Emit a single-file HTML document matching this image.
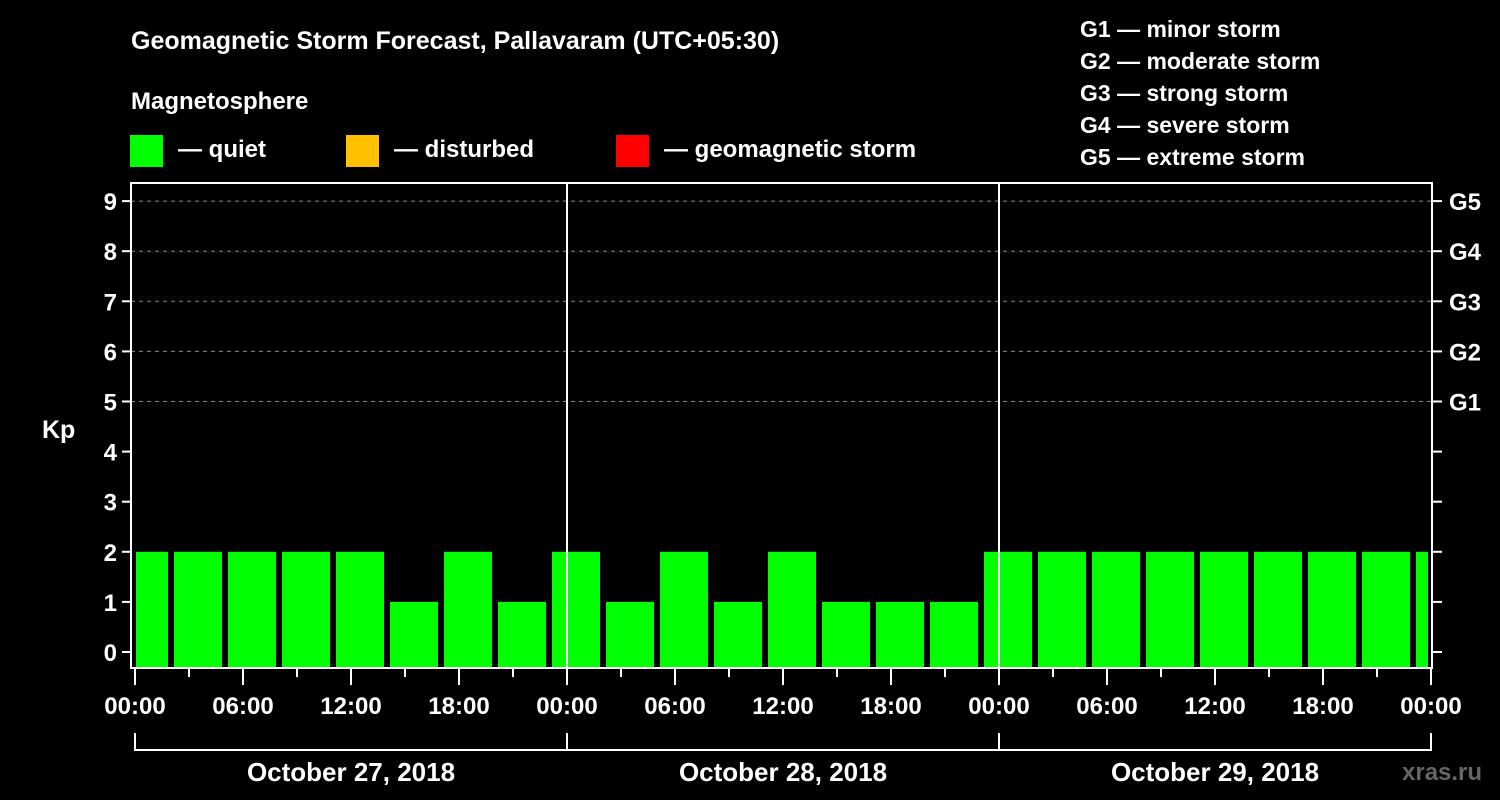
<!DOCTYPE html>
<html><head><meta charset="utf-8"><style>
html,body{margin:0;padding:0;background:#000;}
svg{display:block;font-family:"Liberation Sans",Arial,sans-serif;font-weight:bold;}
</style></head><body>
<svg id="chart" width="1500" height="800" viewBox="0 0 1500 800" xmlns="http://www.w3.org/2000/svg">
<rect width="1500" height="800" fill="#000"/>
<text x="131" y="49" fill="#fff" font-size="25">Geomagnetic Storm Forecast, Pallavaram (UTC+05:30)</text>
<text x="131" y="109" fill="#fff" font-size="24">Magnetosphere</text>
<g><rect x="130" y="135" width="33" height="32" fill="#00ff00"/><text x="178" y="157" fill="#fff" font-size="24">— quiet</text></g>
<g><rect x="346" y="135" width="33" height="32" fill="#ffc000"/><text x="394" y="157" fill="#fff" font-size="24">— disturbed</text></g>
<g><rect x="616" y="135" width="33" height="32" fill="#ff0000"/><text x="664" y="157" fill="#fff" font-size="24">— geomagnetic storm</text></g>
<g fill="#fff" font-size="23">
<text x="1080" y="37">G1 — minor storm</text>
<text x="1080" y="69">G2 — moderate storm</text>
<text x="1080" y="101">G3 — strong storm</text>
<text x="1080" y="133">G4 — severe storm</text>
<text x="1080" y="165">G5 — extreme storm</text>
</g>
<text x="42" y="438" fill="#fff" font-size="25">Kp</text>
<g id="grid"></g>
<g id="bars"></g>
<g id="axes"></g>
<text x="1402" y="780" fill="#666" font-size="24">xras.ru</text>
</svg>
<script>
const kpValues = [2,2,2,2,2,1,2,1,2,1,2,1,2,1,1,1,2,2,2,2,2,2,2,2,2];
const dayLabels = ["October 27, 2018","October 28, 2018","October 29, 2018"];
const hourLabels = ["00:00","06:00","12:00","18:00"];
const gLabels = ["G1","G2","G3","G4","G5"];
const yTicks = [0,1,2,3,4,5,6,7,8,9];

const NS="http://www.w3.org/2000/svg";
const X0=135, PXH=18, Y0=652, PXK=50.1, LEFT=131, RIGHT=1432, TOP=183, BOTTOM=668;
const xOf=h=>X0+h*PXH;
const yOf=k=>Y0-k*PXK;
function mk(tag,attrs,parent){const e=document.createElementNS(NS,tag);for(const k in attrs)e.setAttribute(k,attrs[k]);parent.appendChild(e);return e;}
const grid=document.getElementById('grid'), bars=document.getElementById('bars'), axes=document.getElementById('axes');

// gridlines and y ticks
yTicks.forEach(k=>{
  const y=yOf(k);
  if(k>=5){const l=mk('line',{x1:LEFT,x2:RIGHT,y1:y,y2:y,stroke:'#888','stroke-width':1,'stroke-dasharray':'4,4'},grid);
  
  }
  mk('line',{x1:LEFT-9,x2:LEFT,y1:y,y2:y,stroke:'#fff','stroke-width':2},axes);
  mk('line',{x1:RIGHT,x2:RIGHT+10,y1:y,y2:y,stroke:'#fff','stroke-width':2},axes);
  const t=mk('text',{x:LEFT-14,y:y+9,fill:'#fff','font-size':24,'text-anchor':'end'},axes);
  t.textContent=k;
  
  
});
gLabels.forEach((g,i)=>{
  const t=mk('text',{x:1449,y:yOf(5+i)+9,fill:'#fff','font-size':24},axes);
  t.textContent=g;
  
  
});

// bars: 3-hour slots starting at -1h
kpValues.forEach((v,i)=>{
  const h0=-1+3*i, h1=h0+3;
  let x1=xOf(h0)+3, x2=xOf(h1)-3;
  x1=Math.max(x1,X0+1); x2=Math.min(x2,xOf(72)-3);
  const col=v>=5?'#ff0000':(v>=4?'#ffc000':'#00ff00');
  const r=mk('rect',{x:x1,y:yOf(v),width:x2-x1,height:BOTTOM-yOf(v),fill:col},bars);
  
  
});

// frame
mk('rect',{x:LEFT,y:TOP,width:RIGHT-LEFT,height:BOTTOM-TOP,fill:'none',stroke:'#fff','stroke-width':2},axes);
// day separators
[1,2].forEach(d=>mk('line',{x1:xOf(24*d),x2:xOf(24*d),y1:TOP,y2:BOTTOM,stroke:'#fff','stroke-width':2},axes));
// x ticks
for(let h=0;h<=72;h+=3){
  const x=xOf(h);
  mk('line',{x1:x,x2:x,y1:BOTTOM,y2:(h%6===0)?685:677,stroke:'#fff','stroke-width':2},axes);
}
for(let d=0;d<=3;d++){
  hourLabels.forEach((lab,j)=>{
    if(d===3&&j>0)return;
    const t=mk('text',{x:xOf(24*d+6*j),y:714,fill:'#fff','font-size':24,'text-anchor':'middle'},axes);
    t.textContent=lab;
    
    
  });
}
// date brackets
dayLabels.forEach((lab,d)=>{
  const xa=xOf(24*d), xb=xOf(24*(d+1));
  mk('path',{d:`M${xa} 733 V750 H${xb} V733`,fill:'none',stroke:'#fff','stroke-width':2},axes);
  const t=mk('text',{x:(xa+xb)/2,y:781,fill:'#fff','font-size':26,'text-anchor':'middle'},axes);
  t.textContent=lab;
  
  
});
</script>
</body></html>
